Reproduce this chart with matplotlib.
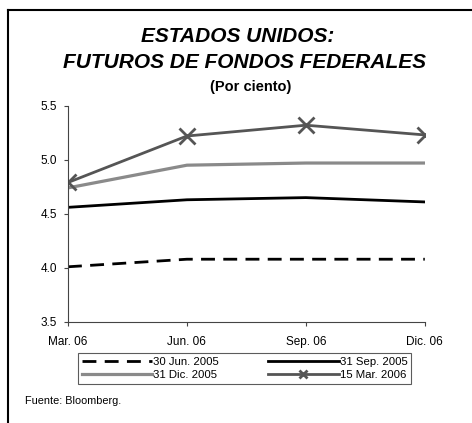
import matplotlib.pyplot as plt
from matplotlib.lines import Line2D

# datos
meses = ["Mar. 06", "Jun. 06", "Sep. 06", "Dic. 06"]
jun_2005 = [4.01, 4.08, 4.08, 4.08]
sep_2005 = [4.56, 4.63, 4.65, 4.61]
dic_2005 = [4.74, 4.95, 4.97, 4.97]
mar_2006 = [4.79, 5.22, 5.32, 5.23]

plt.rcParams['font.family'] = ['Liberation Sans', 'DejaVu Sans']

fig = plt.figure(figsize=(4.72, 4.23), dpi=100)
ax = fig.add_axes([0.144, 0.239, 0.756, 0.511])

x = range(len(meses))
l1, = ax.plot(x, jun_2005, color="black", lw=2, ls=(0, (5, 3)), label="30 Jun. 2005")
l2, = ax.plot(x, sep_2005, color="black", lw=2, label="31 Sep. 2005")
l3, = ax.plot(x, dic_2005, color="#8a8a8a", lw=2.3, label="31 Dic. 2005")
l4, = ax.plot(x, mar_2006, color="#555555", lw=2, marker="x", ms=11, mew=2,
              label="15 Mar. 2006")

ax.set_xlim(0, 3)
ax.set_ylim(3.5, 5.5)
ax.set_yticks([3.5, 4.0, 4.5, 5.0, 5.5])
ax.set_yticklabels(["3.5", "4.0", "4.5", "5.0", "5.5"])
ax.set_xticks(list(x))
ax.set_xticklabels(meses)
ax.tick_params(labelsize=8.5, length=3, width=0.8, color="#444444", pad=5)
ax.tick_params(axis="x", pad=7)
for s in ["top", "right"]:
    ax.spines[s].set_visible(False)
for s in ["left", "bottom"]:
    ax.spines[s].set_color("#444444")
    ax.spines[s].set_linewidth(0.8)

fig.text(0.504, 0.90, "ESTADOS UNIDOS:", ha="center", fontsize=15,
         fontweight="bold", fontstyle="italic")
fig.text(0.518, 0.839, "FUTUROS DE FONDOS FEDERALES", ha="center", fontsize=15,
         fontweight="bold", fontstyle="italic")
fig.text(0.531, 0.785, "(Por ciento)", ha="center", fontsize=10.5,
         fontweight="bold")

# orden por filas: (jun, sep) / (dic, mar)
leg = fig.legend([l1, l3, l2, l4],
                 [l1.get_label(), l3.get_label(), l2.get_label(), l4.get_label()],
                 loc="center", bbox_to_anchor=(0.518, 0.129), ncol=2,
                 fontsize=8.2, handlelength=6.2, handletextpad=0.1,
                 columnspacing=4.3, frameon=True, fancybox=False,
                 borderpad=0.35, labelspacing=0.3, borderaxespad=0)
leg.get_frame().set_edgecolor("#333333")
leg.get_frame().set_linewidth(0.8)
leg.legend_handles[3].set_markersize(6)

fig.text(0.053, 0.045, "Fuente: Bloomberg.", fontsize=7.8)

# marco recortado
fig.add_artist(Line2D([8 / 472, 1], [1 - 10 / 423, 1 - 10 / 423],
                      transform=fig.transFigure, color="black", lw=1.5))
fig.add_artist(Line2D([8 / 472, 8 / 472], [0, 1 - 10 / 423],
                      transform=fig.transFigure, color="black", lw=1.5))

fig.savefig("out.png", dpi=100)
